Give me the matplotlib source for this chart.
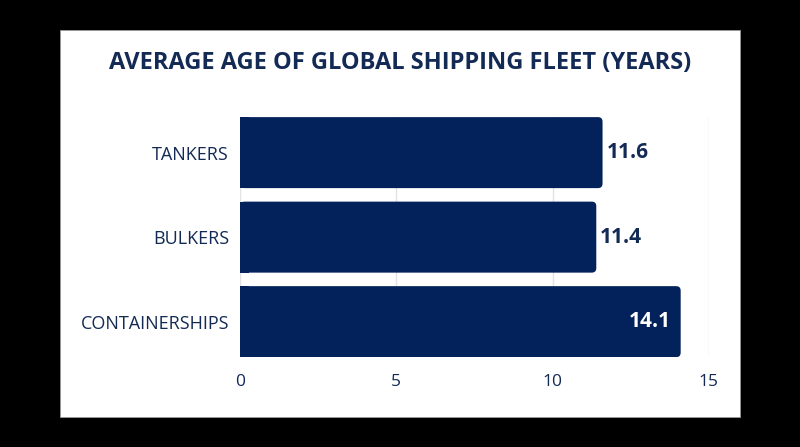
import matplotlib
matplotlib.use("Agg")
import matplotlib.pyplot as plt
from matplotlib.patches import FancyBboxPatch, Rectangle

categories = ["TANKERS", "BULKERS", "CONTAINERSHIPS"]
ages = [11.6, 11.4, 14.1]
xticks = [0, 5, 10, 15]

navy = "#03215a"
text_navy = "#132a55"

plt.rcParams['font.family'] = ['Open Sans', 'DejaVu Sans']

fig = plt.figure(figsize=(8, 4.47), dpi=100, facecolor="black")

# white card behind the chart
card = Rectangle((0.075, 0.067), 0.85, 0.866, transform=fig.transFigure,
                 facecolor="white", edgecolor="#999999", linewidth=0.6, zorder=-10)
fig.add_artist(card)

fig.text(0.5, 0.859, "AVERAGE AGE OF GLOBAL SHIPPING FLEET (YEARS)",
         ha="center", va="center", fontsize=17, fontweight="bold", color=text_navy)

ax = fig.add_axes([0.3, 0.201, 0.586, 0.537])
ax.set_facecolor("none")
ax.set_xlim(0, 15)
h = 0.84
ax.set_ylim(len(categories) - 1 + h / 2, -h / 2)

ax.set_xticks(xticks)
ax.set_yticks(range(len(categories)))
ax.set_yticklabels(categories)
ax.tick_params(length=0, labelcolor=text_navy)
ax.tick_params(axis="x", pad=12, labelsize=12.5)
ax.tick_params(axis="y", pad=8, labelsize=13)
for s in ax.spines.values():
    s.set_visible(False)
ax.grid(axis="x", color="#e3e3e3", linewidth=1)
ax.set_axisbelow(True)

# aspect between one y unit and one x unit in pixels
px_x = 0.586 * 800 / 15
px_y = 0.537 * 447 / (len(categories) - 1 + h)
aspect = px_x / px_y
r = 4.5 / px_x

for i, v in enumerate(ages):
    box = FancyBboxPatch((0, i - h / 2), v, h,
                         boxstyle="round,pad=0,rounding_size=%f" % r,
                         mutation_aspect=aspect, facecolor=navy,
                         edgecolor="none", zorder=3)
    ax.add_patch(box)
    # square off the left end
    ax.add_patch(Rectangle((0, i - h / 2), 2 * r, h, facecolor=navy,
                           edgecolor="none", antialiased=False, zorder=3))
    if v > 13:
        ax.text(v - 0.3, i, "%.1f" % v, ha="right", va="center",
                fontsize=15, fontweight="bold", color="white", zorder=4)
    else:
        ax.text(v + 0.12, i, "%.1f" % v, ha="left", va="center",
                fontsize=15, fontweight="bold", color=text_navy, zorder=4)

fig.savefig("out.png", dpi=100, facecolor="black")
